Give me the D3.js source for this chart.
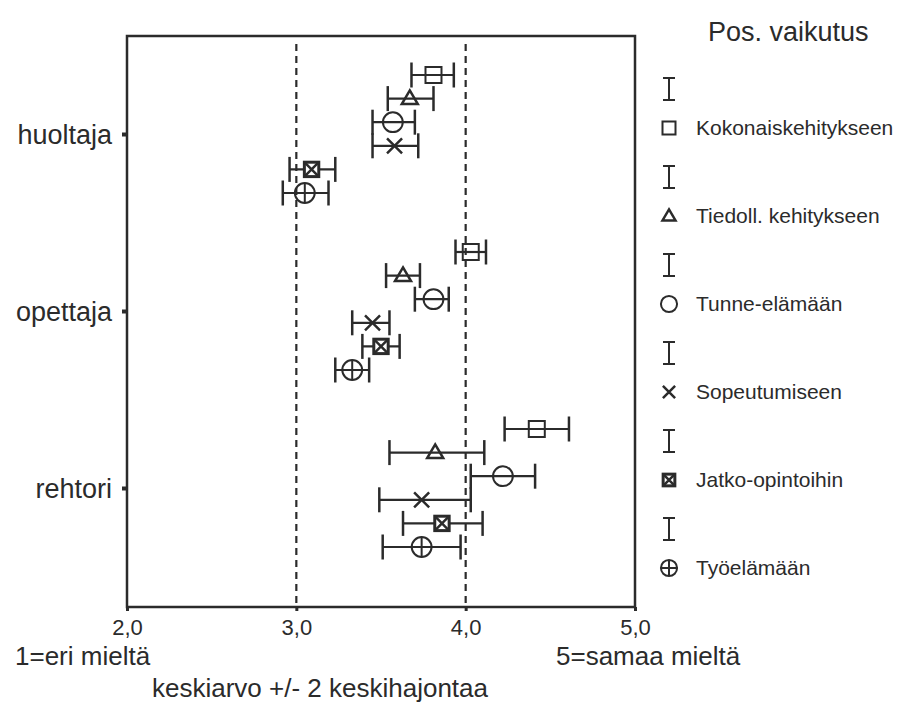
<!DOCTYPE html>
<html><head><meta charset="utf-8">
<script src="https://cdn.jsdelivr.net/npm/d3@7"></script>
<style>
html,body{margin:0;padding:0;background:#fff;}
text{font-family:"Liberation Sans",Arial,Helvetica,sans-serif;fill:#2b2b2b;}
</style></head>
<body>
<svg id="chart" width="908" height="707"></svg>
<script>
const categories = ["huoltaja", "opettaja", "rehtori"];
const series = ["Kokonaiskehitykseen", "Tiedoll. kehitykseen", "Tunne-elämään", "Sopeutumiseen", "Jatko-opintoihin", "Työelämään"];
const symbols = ["square", "triangle", "circle", "cross", "boxcross", "circleplus"];
// mean values per series, in category order
const meanKokonais = [3.81, 4.03, 4.42];
const meanTiedoll  = [3.67, 3.63, 3.82];
const meanTunne    = [3.57, 3.81, 4.22];
const meanSopeut   = [3.58, 3.45, 3.74];
const meanJatko    = [3.09, 3.50, 3.86];
const meanTyo      = [3.05, 3.33, 3.74];
// mean - 2 SD
const lowKokonais = [3.68, 3.94, 4.23];
const lowTiedoll  = [3.54, 3.53, 3.55];
const lowTunne    = [3.45, 3.70, 4.03];
const lowSopeut   = [3.45, 3.33, 3.49];
const lowJatko    = [2.96, 3.39, 3.63];
const lowTyo      = [2.92, 3.23, 3.51];
// mean + 2 SD
const highKokonais = [3.93, 4.12, 4.61];
const highTiedoll  = [3.81, 3.73, 4.11];
const highTunne    = [3.70, 3.90, 4.41];
const highSopeut   = [3.72, 3.55, 4.03];
const highJatko    = [3.23, 3.61, 4.10];
const highTyo      = [3.19, 3.43, 3.97];
const xTicks = [2, 3, 4, 5];
const refLines = [3, 4];

const means = [meanKokonais, meanTiedoll, meanTunne, meanSopeut, meanJatko, meanTyo];
const lows = [lowKokonais, lowTiedoll, lowTunne, lowSopeut, lowJatko, lowTyo];
const highs = [highKokonais, highTiedoll, highTunne, highSopeut, highJatko, highTyo];

const rows = [];
series.forEach((s, j) => categories.forEach((c, i) => rows.push({
  cat: c, ser: s, sym: symbols[j], mean: means[j][i], lo: lows[j][i], hi: highs[j][i]
})));

const svg = d3.select("#chart");
const ink = "#2b2b2b";
const L = 127, R = 635, T = 36, B = 607;

const x = d3.scaleLinear().domain([2, 5]).range([L, R]);
const yCat = d3.scalePoint().domain(categories).range([134, 488]);
const yOff = d3.scalePoint().domain(series).range([-59, 59]);

// frame
svg.append("rect").attr("x", L).attr("y", T).attr("width", R - L).attr("height", B - T)
  .attr("fill", "none").attr("stroke", ink).attr("stroke-width", 2.5);

// reference dashed lines
svg.selectAll("line.ref").data(refLines).join("line").attr("class", "ref")
  .attr("x1", d => x(d)).attr("x2", d => x(d)).attr("y1", T + 8).attr("y2", B)
  .attr("stroke", ink).attr("stroke-width", 2.2).attr("stroke-dasharray", "7,5");

// x axis
const xAxis = d3.axisBottom(x).tickValues(xTicks).tickSize(4).tickPadding(8)
  .tickFormat(d => d3.format(".1f")(d).replace(".", ","));
const gx = svg.append("g").attr("transform", `translate(0,${B})`).call(xAxis);
gx.select(".domain").remove();
gx.selectAll(".tick line").attr("stroke", ink).attr("stroke-width", 3);
gx.selectAll(".tick text").style("font-size", "22px").attr("fill", ink);

// y axis
const yAxis = d3.axisLeft(yCat).tickSize(5).tickPadding(10);
const gy = svg.append("g").attr("transform", `translate(${L},0)`).call(yAxis);
gy.select(".domain").remove();
gy.selectAll(".tick line").attr("stroke", ink).attr("stroke-width", 4);
gy.selectAll(".tick text").style("font-size", "27px").attr("fill", ink).attr("dy", "0.35em");

// symbol drawing
function drawSymbol(g, sym, s) {
  const sw = 2;
  if (sym === "square") {
    g.append("rect").attr("x", -s / 2).attr("y", -s / 2).attr("width", s).attr("height", s)
      .attr("fill", "none").attr("stroke", ink).attr("stroke-width", sw);
  } else if (sym === "triangle") {
    const h = s * 0.85;
    g.append("path").attr("d", `M0,${-h * 0.6}L${s / 2},${h * 0.4}L${-s / 2},${h * 0.4}Z`)
      .attr("fill", "none").attr("stroke", ink).attr("stroke-width", sw + 0.5);
  } else if (sym === "circle") {
    g.append("circle").attr("r", s * 0.62).attr("fill", "none").attr("stroke", ink).attr("stroke-width", sw);
  } else if (sym === "cross") {
    const a = s * 0.47;
    g.append("path").attr("d", `M${-a},${-a}L${a},${a}M${-a},${a}L${a},${-a}`)
      .attr("stroke", ink).attr("stroke-width", sw + 0.5);
  } else if (sym === "boxcross") {
    const a = s * 0.45;
    g.append("rect").attr("x", -a).attr("y", -a).attr("width", 2 * a).attr("height", 2 * a)
      .attr("fill", "#fff").attr("stroke", ink).attr("stroke-width", 3);
    g.append("path").attr("d", `M${-a},${-a}L${a},${a}M${-a},${a}L${a},${-a}`)
      .attr("stroke", ink).attr("stroke-width", 2.5);
  } else if (sym === "circleplus") {
    const r = s * 0.62;
    g.append("circle").attr("r", r).attr("fill", "none").attr("stroke", ink).attr("stroke-width", sw);
    g.append("path").attr("d", `M${-r},0L${r},0M0,${-r}L0,${r}`).attr("stroke", ink).attr("stroke-width", sw);
  }
}

// error bars
const cap = 12.5;
const eb = svg.selectAll("g.eb").data(rows).join("g").attr("class", "eb")
  .attr("transform", d => `translate(0,${yCat(d.cat) + yOff(d.ser)})`);
eb.append("line").attr("x1", d => x(d.lo)).attr("x2", d => x(d.hi)).attr("y1", 0).attr("y2", 0)
  .attr("stroke", ink).attr("stroke-width", 2.2);
eb.append("line").attr("x1", d => x(d.lo)).attr("x2", d => x(d.lo)).attr("y1", -cap).attr("y2", cap)
  .attr("stroke", ink).attr("stroke-width", 2.5);
eb.append("line").attr("x1", d => x(d.hi)).attr("x2", d => x(d.hi)).attr("y1", -cap).attr("y2", cap)
  .attr("stroke", ink).attr("stroke-width", 2.5);
eb.each(function (d) {
  const g = d3.select(this).append("g").attr("transform", `translate(${x(d.mean)},0)`);
  drawSymbol(g, d.sym, 16);
});

// axis captions
svg.append("text").attr("x", 15).attr("y", 665).style("font-size", "26px").text("1=eri mieltä");
svg.append("text").attr("x", 556).attr("y", 665).style("font-size", "26px").text("5=samaa mieltä");
svg.append("text").attr("x", 152).attr("y", 697).style("font-size", "26px").text("keskiarvo +/- 2 keskihajontaa");

// legend
svg.append("text").attr("x", 708).attr("y", 41).style("font-size", "27px").text("Pos. vaikutus");
const leg = svg.selectAll("g.leg").data(series).join("g").attr("class", "leg")
  .attr("transform", (d, j) => `translate(669,${89 + j * 88})`);
leg.append("path").attr("d", "M-6,-11L6,-11M0,-11L0,11M-6,11L6,11")
  .attr("stroke", ink).attr("stroke-width", 2).attr("fill", "none");
leg.each(function (d, j) {
  const g = d3.select(this).append("g").attr("transform", "translate(0,39)");
  drawSymbol(g, symbols[j], 13);
});
leg.append("text").attr("x", 27).attr("y", 39).attr("dy", "0.35em").style("font-size", "21px").text(d => d);
</script>
</body></html>
